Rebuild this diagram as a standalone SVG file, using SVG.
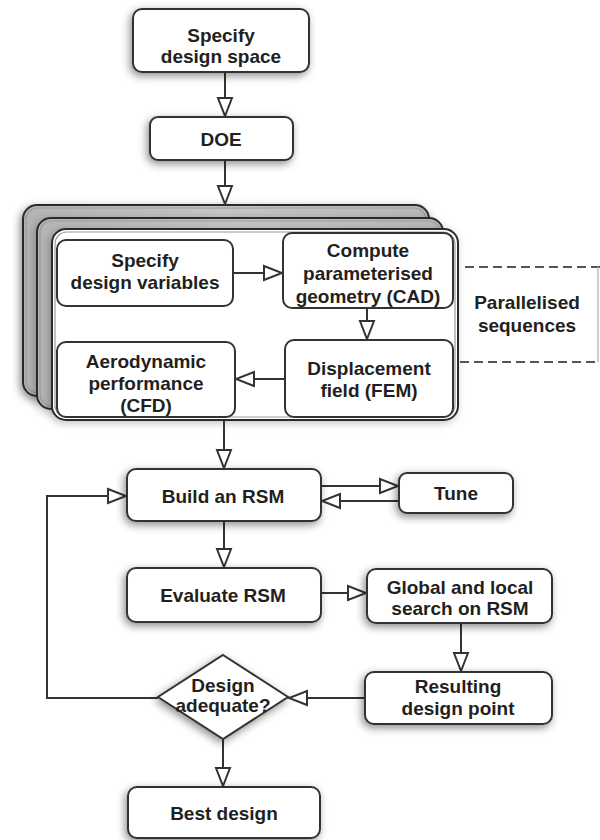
<svg xmlns="http://www.w3.org/2000/svg" width="600" height="840" viewBox="0 0 600 840">
<style>
.box{fill:#fff;stroke:#333;stroke-width:2}
.card{stroke:#2b2b2b;stroke-width:2}
.inner{fill:none;stroke:#9a9a9a;stroke-width:1.2}
.lbl{font-family:"Liberation Sans",Arial,sans-serif;font-weight:bold;font-size:19px;fill:#231f20;text-anchor:middle}
.con{fill:none;stroke:#333;stroke-width:2}
.dash{fill:none;stroke:#555;stroke-width:2;stroke-dasharray:9 5}
</style>
<defs>
<filter id="sh" x="-20%" y="-30%" width="140%" height="160%">
<feDropShadow dx="-2" dy="3" stdDeviation="4" flood-color="#000" flood-opacity="0.45"/>
</filter>
<filter id="shc" x="-20%" y="-30%" width="140%" height="160%">
<feDropShadow dx="-2" dy="2" stdDeviation="4" flood-color="#000" flood-opacity="0.25"/>
</filter>
<linearGradient id="cg" x1="0" y1="0" x2="1" y2="0">
<stop offset="0" stop-color="#b4b4b4"/>
<stop offset="0.5" stop-color="#c6c6c6"/>
<stop offset="1" stop-color="#b8b8b8"/>
</linearGradient>
<marker id="ah" markerUnits="userSpaceOnUse" markerWidth="22" markerHeight="18" refX="18" refY="7" orient="auto" viewBox="-2 -2 22 18">
<path d="M0,0 L18,7 L0,14 Z" fill="#fff" stroke="#333" stroke-width="2" stroke-linejoin="miter"/>
</marker>
</defs>

<g id="stack">
<rect x="23" y="205" width="406" height="191" rx="14" fill="url(#cg)" class="card" filter="url(#sh)"/>
<rect x="26" y="208" width="400" height="185" rx="12" class="inner"/>
<rect x="37" y="218" width="406" height="191" rx="14" fill="url(#cg)" class="card" filter="url(#shc)"/>
<rect x="40" y="221" width="400" height="185" rx="12" class="inner"/>
<rect x="52" y="229" width="406" height="191" rx="14" fill="#fff" class="card" filter="url(#shc)"/>
<rect x="55" y="232" width="400" height="185" rx="12" class="inner"/>
</g>

<g id="connectors">
<line x1="225" y1="72" x2="225" y2="116" class="con" marker-end="url(#ah)"/>
<line x1="225" y1="160" x2="225" y2="204" class="con" marker-end="url(#ah)"/>
<line x1="233" y1="273" x2="282" y2="273" class="con" marker-end="url(#ah)"/>
<line x1="367" y1="308" x2="367" y2="339" class="con" marker-end="url(#ah)"/>
<line x1="285" y1="379" x2="236" y2="379" class="con" marker-end="url(#ah)"/>
<line x1="224" y1="420" x2="224" y2="468" class="con" marker-end="url(#ah)"/>
<line x1="321" y1="486" x2="398" y2="486" class="con" marker-end="url(#ah)"/>
<line x1="399" y1="501" x2="322" y2="501" class="con" marker-end="url(#ah)"/>
<line x1="224" y1="521" x2="224" y2="567" class="con" marker-end="url(#ah)"/>
<line x1="321" y1="593" x2="366" y2="593" class="con" marker-end="url(#ah)"/>
<line x1="461" y1="623" x2="461" y2="671" class="con" marker-end="url(#ah)"/>
<line x1="365" y1="698" x2="289" y2="698" class="con" marker-end="url(#ah)"/>
<path d="M158,698 H47 V496 H126" class="con" marker-end="url(#ah)"/>
<line x1="223" y1="739" x2="223" y2="786" class="con" marker-end="url(#ah)"/>
<path d="M465,267 H600" class="dash"/>
<path d="M460,362 H600" class="dash"/>
<line x1="598" y1="267" x2="598" y2="362" stroke="#bbb" stroke-width="1.5"/>
</g>

<g id="n-space">
<rect x="133" y="9" width="176" height="63" rx="9" class="box" filter="url(#sh)"/>
<text class="lbl" x="221" y="42">Specify</text>
<text class="lbl" x="221" y="63">design space</text>
</g>
<g id="n-doe">
<rect x="150" y="117" width="143" height="43" rx="8" class="box" filter="url(#sh)"/>
<text class="lbl" x="221" y="146">DOE</text>
</g>
<g id="n-vars">
<rect x="57" y="240" width="176" height="66" rx="9" class="box"/>
<text class="lbl" x="145" y="267">Specify</text>
<text class="lbl" x="145" y="289">design variables</text>
</g>
<g id="n-cad">
<rect x="283" y="233" width="170" height="75" rx="9" class="box"/>
<text class="lbl" x="368" y="257">Compute</text>
<text class="lbl" x="368" y="280">parameterised</text>
<text class="lbl" x="368" y="303">geometry (CAD)</text>
</g>
<g id="n-fem">
<rect x="285" y="340" width="168" height="77" rx="9" class="box"/>
<text class="lbl" x="369" y="375">Displacement</text>
<text class="lbl" x="369" y="397">field (FEM)</text>
</g>
<g id="n-cfd">
<rect x="57" y="342" width="178" height="75" rx="9" class="box"/>
<text class="lbl" x="146" y="368">Aerodynamic</text>
<text class="lbl" x="146" y="390">performance</text>
<text class="lbl" x="146" y="412">(CFD)</text>
</g>
<g id="n-par">
<text class="lbl" x="527" y="309">Parallelised</text>
<text class="lbl" x="527" y="332">sequences</text>
</g>
<g id="n-build">
<rect x="127" y="469" width="194" height="52" rx="9" class="box" filter="url(#sh)"/>
<text class="lbl" x="223" y="503">Build an RSM</text>
</g>
<g id="n-tune">
<rect x="399" y="473" width="114" height="40" rx="8" class="box" filter="url(#sh)"/>
<text class="lbl" x="456" y="500">Tune</text>
</g>
<g id="n-eval">
<rect x="127" y="568" width="194" height="54" rx="9" class="box" filter="url(#sh)"/>
<text class="lbl" x="223" y="602">Evaluate RSM</text>
</g>
<g id="n-search">
<rect x="367" y="569" width="185" height="54" rx="9" class="box" filter="url(#sh)"/>
<text class="lbl" x="460" y="594">Global and local</text>
<text class="lbl" x="460" y="615">search on RSM</text>
</g>
<g id="n-point">
<rect x="365" y="672" width="187" height="52" rx="9" class="box" filter="url(#sh)"/>
<text class="lbl" x="458" y="693">Resulting</text>
<text class="lbl" x="458" y="715">design point</text>
</g>
<g id="n-adequate">
<path d="M223,655 L288,697 L223,739 L158,697 Z" class="box" filter="url(#sh)"/>
<text class="lbl" x="223" y="692">Design</text>
<text class="lbl" x="223" y="712">adequate?</text>
</g>
<g id="n-best">
<rect x="128" y="787" width="192" height="51" rx="9" class="box" filter="url(#sh)"/>
<text class="lbl" x="224" y="820">Best design</text>
</g>
</svg>
